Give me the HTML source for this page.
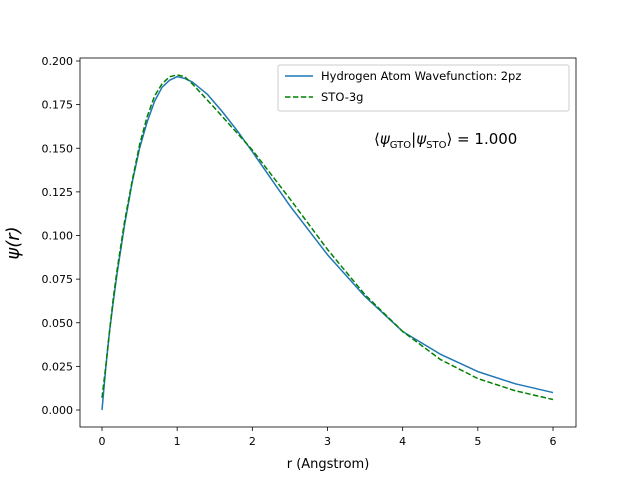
<!DOCTYPE html>
<html><head><meta charset="utf-8"><style>body{margin:0;background:#fff}svg{display:block;font-family:"DejaVu Sans","Liberation Sans",sans-serif}</style></head>
<body>
<svg id="chart" width="640" height="480"></svg>
<script>
const rBlue=[0,0.05,0.1,0.15,0.2,0.3,0.4,0.5,0.6,0.7,0.8,0.9,1.0,1.1,1.2,1.4,1.6,1.8,2.0,2.5,3.0,3.5,4.0,4.5,5.0,5.5,6.0];
const psiBlue=[0,0.024,0.045,0.062,0.078,0.106,0.130,0.150,0.165,0.177,0.185,0.189,0.191,0.190,0.188,0.181,0.171,0.160,0.148,0.117,0.089,0.065,0.045,0.032,0.022,0.015,0.010];
const rGreen=[0,0.05,0.1,0.15,0.2,0.3,0.4,0.5,0.6,0.7,0.8,0.9,1.0,1.1,1.2,1.5,2.0,2.5,3.0,3.5,4.0,4.5,5.0,5.5,6.0];
const psiGreen=[0.007,0.025,0.045,0.064,0.080,0.108,0.131,0.152,0.168,0.180,0.187,0.191,0.192,0.191,0.187,0.173,0.149,0.121,0.092,0.066,0.045,0.029,0.018,0.011,0.006];
const xTicks=[0,1,2,3,4,5,6];
const yTicks=[0,0.025,0.05,0.075,0.1,0.125,0.15,0.175,0.2];
const NS="http://www.w3.org/2000/svg";const svg=document.getElementById('chart');
const L=80,R=576,T=58,B=427;
const xs=v=>102+v*(553-102)/6;const ys=v=>410-v*(410-61)/0.2;
function mk(t,a,p){const e=document.createElementNS(NS,t);for(const k in a)e.setAttribute(k,a[k]);(p||svg).appendChild(e);return e;}
const frame=mk('rect',{x:L,y:T,width:R-L,height:B-T,fill:'none',stroke:'#000','stroke-width':0.8});


xTicks.forEach(v=>{const g=mk('g',{});


mk('line',{x1:xs(v),x2:xs(v),y1:B,y2:B+4,stroke:'#000','stroke-width':0.8},g);
const t=mk('text',{x:xs(v),y:B+18,'text-anchor':'middle','font-size':11},g);t.textContent=v;});
yTicks.forEach(v=>{const g=mk('g',{});


mk('line',{x1:L-4,x2:L,y1:ys(v),y2:ys(v),stroke:'#000','stroke-width':0.8},g);
const t=mk('text',{x:L-7,y:ys(v)+4,'text-anchor':'end','font-size':11},g);t.textContent=v.toFixed(3);});
function line(rx,py,col,dash,name){const p=mk('polyline',{points:rx.map((r,i)=>xs(r)+','+ys(py[i])).join(' '),fill:'none',stroke:col,'stroke-width':1.5,'stroke-dasharray':dash,'stroke-linejoin':'round'});

}
line(rBlue,psiBlue,'#1f77b4','none','hydrogen-2pz-line');
line(rGreen,psiGreen,'#008000','5.5,2.4','sto-3g-line');
</script>
<svg width="640" height="480" style="position:absolute;left:0;top:0">
<text x="328" y="468" text-anchor="middle" font-size="13">r (Angstrom)</text>
<text transform="translate(19,243) rotate(-90)" text-anchor="middle" font-size="18" font-style="italic">ψ(r)</text>
<text x="374" y="144" font-size="15">⟨<tspan font-style="italic">ψ</tspan><tspan font-size="10" dy="4">GTO</tspan><tspan dy="-4">|</tspan><tspan font-style="italic">ψ</tspan><tspan font-size="10" dy="4">STO</tspan><tspan dy="-4">⟩ = 1.000</tspan></text>
<g>
<rect x="278" y="65" width="291" height="46" rx="2" fill="#fff" fill-opacity="0.8" stroke="#ccc"/>
<line x1="285" x2="313" y1="76" y2="76" stroke="#1f77b4" stroke-width="1.5"/>
<text x="321" y="80" font-size="11.5">Hydrogen Atom Wavefunction: 2pz</text>
<line x1="285" x2="313" y1="97" y2="97" stroke="#008000" stroke-width="1.5" stroke-dasharray="5.5,2.4"/>
<text x="321" y="101" font-size="11.5">STO-3g</text>
</g>
</svg>
</body></html>
